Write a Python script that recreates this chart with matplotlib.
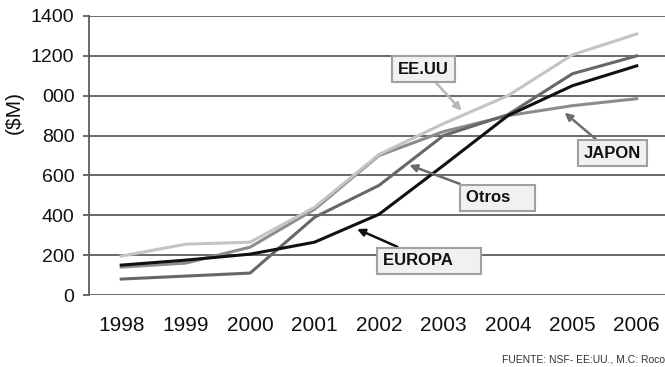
import matplotlib
matplotlib.use("Agg")
import matplotlib.pyplot as plt

plt.rcParams['font.family'] = ['Liberation Sans', 'DejaVu Sans']

years = ['1998', '1999', '2000', '2001', '2002', '2003', '2004', '2005', '2006']
eeuu = [195, 255, 265, 440, 705, 860, 1000, 1205, 1310]
japon = [140, 160, 240, 430, 700, 820, 900, 950, 985]
otros = [80, 95, 110, 390, 550, 800, 905, 1110, 1200]
europa = [150, 175, 205, 265, 405, 650, 900, 1050, 1150]

y_ticks = [0, 200, 400, 600, 800, 1000, 1200, 1400]
y_tick_labels = ['0', '200', '400', '600', '800', '000', '1200', '1400']

fig = plt.figure(figsize=(6.65, 3.67), dpi=100)
ax = fig.add_axes([89 / 665, 72 / 367, 580 / 665, 279 / 367])

x = range(len(years))
ax.plot(x, japon, color='#8c8c8c', lw=2.2, zorder=3)
ax.plot(x, otros, color='#676767', lw=2.2, zorder=3)
ax.plot(x, europa, color='#111111', lw=2.2, zorder=4)
ax.plot(x, eeuu, color='#c4c4c4', lw=2.2, zorder=5)

ax.set_xlim(-0.5, len(years) - 0.5)
ax.set_ylim(0, 1400)
ax.set_yticks(y_ticks)
ax.set_yticklabels(y_tick_labels)
ax.set_xticks(list(x))
ax.set_xticklabels(years)
ax.grid(axis='y', color='#5e5e5e', lw=1.3, zorder=1)
ax.set_axisbelow(True)

for s in ['top', 'right', 'bottom']:
    ax.spines[s].set_visible(False)
ax.spines['left'].set_color('#5e5e5e')
ax.spines['left'].set_linewidth(1.3)

ax.tick_params(axis='y', length=4.5, width=1.3, color='#5e5e5e', pad=6,
               labelsize=14, labelcolor='#111111')
ax.tick_params(axis='x', length=0, pad=15, labelsize=15, labelcolor='#111111')

fig.text(14 / 665, 1 - 112 / 367, '($M)', rotation=90, fontsize=15,
         ha='center', va='center', color='#111111')

box = dict(boxstyle='square,pad=0.35', facecolor='#f1f1f1',
           edgecolor='#a0a0a0', lw=1.5)


def etiqueta(texto, xy, xytext, color):
    ax.annotate(texto, xy=xy, xytext=xytext, fontsize=12, fontweight='bold',
                ha='center', va='center', color='#111111', bbox=box, zorder=6,
                arrowprops=dict(arrowstyle='-|>', color=color, lw=1.8,
                                mutation_scale=11, shrinkA=0, shrinkB=0))


etiqueta('EE.UU', (5.28, 925), (4.69, 1134), '#b8b8b8')
etiqueta('JAPON', (6.88, 915), (7.62, 712), '#6e6e6e')
etiqueta('Otros    ', (4.47, 652), (5.84, 487), '#6a6a6a')
etiqueta('EUROPA     ', (3.66, 331), (4.78, 171), '#111111')

fig.text(502 / 665, 1 - 360 / 367, 'FUENTE: NSF- EE:UU., M.C: Roco',
         fontsize=7.5, ha='left', va='center', color='#333333')

fig.savefig('out.png', dpi=100)
